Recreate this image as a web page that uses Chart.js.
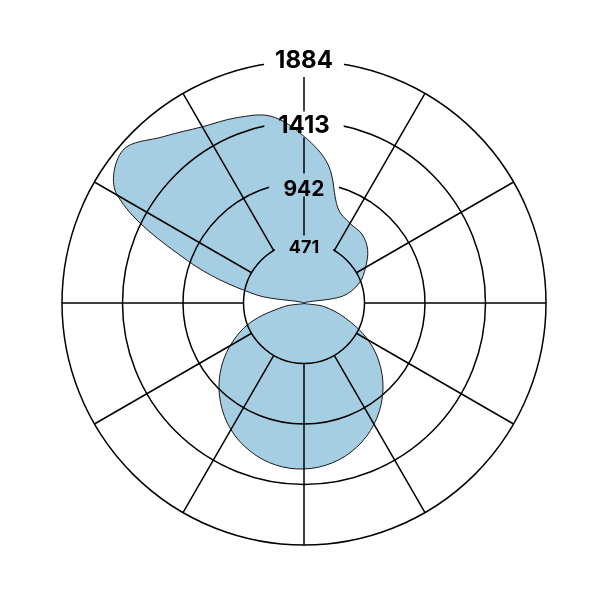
<!DOCTYPE html>
<html>
<head>
<meta charset="utf-8">
<script src="https://cdn.jsdelivr.net/npm/chart.js@4"></script>
<style>
  html, body { margin: 0; padding: 0; background: #ffffff; }
  #wrap { width: 601px; height: 601px; }
</style>
</head>
<body>
<div id="wrap"><canvas id="chart"></canvas></div>
<script>
// directions, degrees clockwise from the top
const angles = [0, 10, 20, 30, 40, 50, 60, 70, 80, 90, 100, 110,
                120, 130, 140, 150, 160, 170, 180, 190, 200, 210, 220, 230,
                240, 250, 260, 270, 280, 290, 300, 310, 320, 330, 340, 350];
const values = [1297, 1090, 779, 716, 701, 647, 553, 459, 304, 0, 156, 343,
                577, 779, 950, 1090, 1196, 1264, 1292, 1280, 1227, 1138, 1011, 853,
                664, 444, 156, 0, 390, 965, 1680, 1845, 1693, 1584, 1535, 1476];
const tickValues = [471, 942, 1413, 1884];

// look of each ring label: font size and downward nudge
const labelStyle = {
    471:  { size: 18, shift: 5 },
    942:  { size: 21, shift: 7.5 },
    1413: { size: 24, shift: 4.5 },
    1884: { size: 24, shift: 0 }
};

// fill is multiplied onto the grid so lines and labels stay visible through it
const multiplyFill = {
    id: 'multiplyFill',
    beforeDatasetsDraw(chart) {
        chart.ctx.save();
        chart.ctx.globalCompositeOperation = 'multiply';
    },
    afterDatasetsDraw(chart) {
        chart.ctx.restore();
    }
};

new Chart(document.getElementById('chart'), {
    type: 'radar',
    data: {
        labels: angles.map(a => a + '°'),
        datasets: [{
            data: values,
            backgroundColor: '#a6cee3',
            borderColor: '#1a1a1a',
            borderWidth: 1,
            pointRadius: 0,
            pointHoverRadius: 0,
            tension: 0.35,
            fill: 'start'
        }]
    },
    options: {
        responsive: true,
        maintainAspectRatio: false,
        animation: false,
        plugins: {
            legend: { display: false },
            tooltip: { enabled: false }
        },
        scales: {
            r: {
                min: 0,
                max: tickValues[tickValues.length - 1],
                afterBuildTicks: (scale) => {
                    scale.ticks = [0].concat(tickValues).map(v => ({ value: v }));
                },
                afterFit: (scale) => {
                    // same placement as the reference plot
                    scale.xCenter = 304;
                    scale.yCenter = 303;
                    scale.drawingArea = 242;
                },
                grid: {
                    circular: true,
                    color: '#000000',
                    lineWidth: 1.5
                },
                angleLines: {
                    color: (c) => c.index % 3 === 0 ? '#000000' : 'rgba(0,0,0,0)',
                    lineWidth: 1.5,
                    borderDash: (c) => {
                        const s = c.chart.scales.r;
                        const r0 = s.getDistanceFromCenterForValue(tickValues[0]);
                        return [0, r0, s.drawingArea - r0 + 2, 0];
                    }
                },
                pointLabels: { display: false },
                ticks: {
                    color: '#000000',
                    callback: (v) => {
                        const st = labelStyle[v];
                        return st && st.shift ? ['', String(v)] : String(v);
                    },
                    showLabelBackdrop: true,
                    backdropColor: '#ffffff',
                    backdropPadding: { left: 11, right: 11, top: -2, bottom: 4 },
                    font: (c) => {
                        const st = c.tick && labelStyle[c.tick.value];
                        return {
                            family: "Inter, 'Liberation Sans', Arial, sans-serif",
                            weight: 'bold',
                            size: st ? st.size : 24,
                            lineHeight: st && st.shift ? st.shift + 'px' : 1.2
                        };
                    }
                }
            }
        }
    },
    plugins: [multiplyFill]
});
</script>
</body>
</html>
